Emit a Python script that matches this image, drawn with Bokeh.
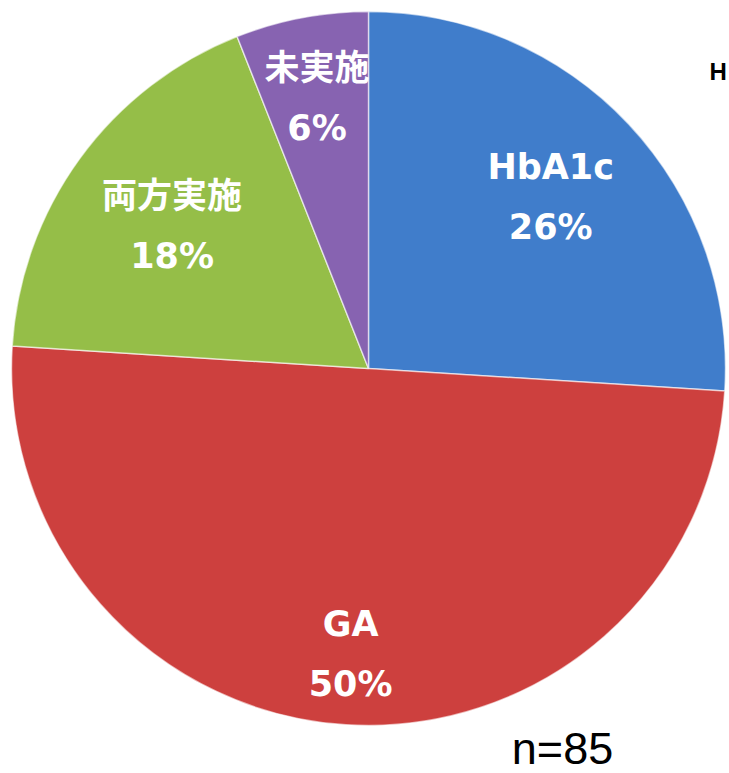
import math
from bokeh.plotting import figure
from bokeh.models import Range1d, ColumnDataSource
from bokeh.core.properties import value
from bokeh.embed import file_html
from bokeh.resources import INLINE

# ---- data ----
categories = ["HbA1c", "GA", "両方実施", "未実施"]
percents = [26, 50, 18, 6]
pct_labels = ["26%", "50%", "18%", "6%"]
n_label = "n=85"
stray_label = "H"

# ---- style ----
colors = ["#407DCB", "#CD403E", "#95BE48", "#8763B1"]
label_r = [0.70, 0.80, 0.68, 0.77]
FONT = value("'DejaVu Sans', 'Noto Sans CJK JP', sans-serif")

W, H = 729, 773
p = figure(width=W, height=H, output_backend="svg", toolbar_location=None,
           x_range=Range1d(0, W), y_range=Range1d(0, H), min_border=0)
p.axis.visible = False
p.grid.visible = False
p.outline_line_color = None
p.background_fill_color = "white"

cx, cy, R = 368, H - 368, 357
total = sum(percents)
starts, ends, mids = [], [], []
cum = 0.0
for v in percents:
    a0 = math.pi / 2 - 2 * math.pi * cum / total
    cum += v
    a1 = math.pi / 2 - 2 * math.pi * cum / total
    starts.append(a0)
    ends.append(a1)
    mids.append((a0 + a1) / 2)

src = ColumnDataSource(dict(start=starts, end=ends, color=colors,
                            x=[cx] * 4, y=[cy] * 4))
p.wedge(x="x", y="y", radius=R, start_angle="start", end_angle="end",
        direction="clock", fill_color="color", line_color="white",
        line_alpha=0.6, line_width=1.5, source=src)

lx = [cx + R * r * math.cos(m) for r, m in zip(label_r, mids)]
ly = [cy + R * r * math.sin(m) for r, m in zip(label_r, mids)]
gap = 30
p.text(x=lx, y=[y + gap for y in ly], text=categories,
       text_font=FONT, text_font_style="bold",
       text_font_size="35px", text_color="white",
       text_align="center", text_baseline="middle")
p.text(x=lx, y=[y - gap for y in ly], text=pct_labels,
       text_font=FONT, text_font_style="bold",
       text_font_size="35px", text_color="white",
       text_align="center", text_baseline="middle")

p.text(x=[562], y=[H - 748], text=[n_label], text_font=value("Liberation Sans"),
       text_font_size="45px", text_color="black",
       text_align="center", text_baseline="middle")
p.text(x=[709], y=[H - 71], text=[stray_label], text_font=value("Liberation Sans"),
       text_font_style="bold", text_font_size="24px", text_color="black",
       text_align="left", text_baseline="middle")

open("out.html", "w").write(file_html(p, INLINE))
